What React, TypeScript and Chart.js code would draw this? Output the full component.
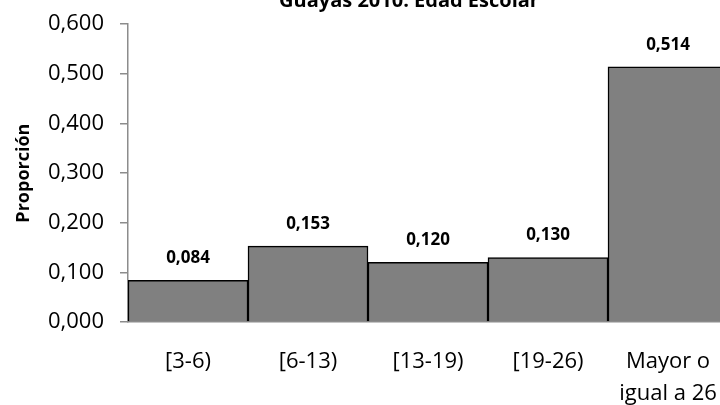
import React, { useEffect, useRef } from "react";
import { Chart, registerables } from "chart.js";

Chart.register(...registerables);

const titleText = "Guayas 2010: Edad Escolar";
const yAxisTitle = "Proporción";
const categories: (string | string[])[] = ["[3-6)", "[6-13)", "[13-19)", "[19-26)", ["Mayor o", "igual a 26"]];
const proportions = [0.084, 0.153, 0.12, 0.13, 0.514];
const yTicks = [0, 0.1, 0.2, 0.3, 0.4, 0.5, 0.6];

const FONT = "'Open Sans', 'Liberation Sans', sans-serif";
const fmt = (v: number) => v.toFixed(3).replace(".", ",");

export default function App() {
  const ref = useRef<HTMLCanvasElement | null>(null);
  useEffect(() => {
    if (!ref.current) return;
    const labelPlugin = {
      id: "valueLabels",
      afterDatasetsDraw(chart: any) {
        const ctx = chart.ctx;
        const meta = chart.getDatasetMeta(0);
        ctx.save();
        ctx.font = `bold 17px ${FONT}`;
        ctx.fillStyle = "#000";
        ctx.textAlign = "center";
        ctx.textBaseline = "middle";
        meta.data.forEach((bar: any, i: number) => {
          ctx.fillText(fmt(proportions[i]), bar.x, bar.y - 22);
        });
        ctx.restore();
      },
    };
    const titlePlugin = {
      id: "topTitle",
      afterDraw(chart: any) {
        const ctx = chart.ctx;
        ctx.save();
        ctx.font = `bold 20px ${FONT}`;
        ctx.fillStyle = "#000";
        ctx.textAlign = "center";
        ctx.textBaseline = "middle";
        ctx.fillText(titleText, chart.width / 2, chart.chartArea.top - 23);
        ctx.restore();
      },
    };
    const chart = new Chart(ref.current, {
      type: "bar",
      data: {
        labels: categories,
        datasets: [
          {
            data: proportions,
            backgroundColor: "#808080",
            borderColor: "#000000",
            borderWidth: 1.5,
            categoryPercentage: 1,
            barPercentage: 1,
          },
        ],
      },
      options: {
        animation: false,
        responsive: false,
        maintainAspectRatio: false,
        layout: { padding: { top: 18, right: 90, left: 0, bottom: 0 } },
        plugins: { legend: { display: false }, tooltip: { enabled: false }, title: { display: false } },
        scales: {
          x: {
            grid: { display: false, drawTicks: false },
            border: { color: "#8c8c8c", width: 1.5 },
            ticks: { font: { family: FONT, size: 22, lineHeight: 1.45 }, color: "#000", padding: 24, maxRotation: 0, autoSkip: false },
            afterFit: (s: any) => { s.height = 83; },
          },
          y: {
            min: 0,
            max: 0.6,
            afterBuildTicks: (s: any) => { s.ticks = yTicks.map((v) => ({ value: v })); },
            afterFit: (s: any) => { s.width = 128; },
            grid: { display: true, drawOnChartArea: false, drawTicks: true, tickLength: 8, color: "#8c8c8c", lineWidth: 1.5 },
            border: { color: "#8c8c8c", width: 1.5 },
            ticks: {
              font: { family: FONT, size: 22 },
              color: "#000",
              padding: 16,
              callback: (v: any) => fmt(Number(v)),
            },
            title: { display: true, text: yAxisTitle, font: { family: FONT, size: 18, weight: "bold" }, color: "#000", padding: { top: 13, bottom: 0 } },
          },
        },
      },
      plugins: [labelPlugin, titlePlugin],
    });
    return () => chart.destroy();
  }, []);
  return (
    <div style={{ position: "fixed", left: 0, top: 0, width: 720, height: 405, overflow: "hidden", background: "#fff" }}>
      <canvas ref={ref} width={818} height={410} style={{ width: 818, height: 410, display: "block", position: "absolute", left: 0, top: -5 }} />
    </div>
  );
}
